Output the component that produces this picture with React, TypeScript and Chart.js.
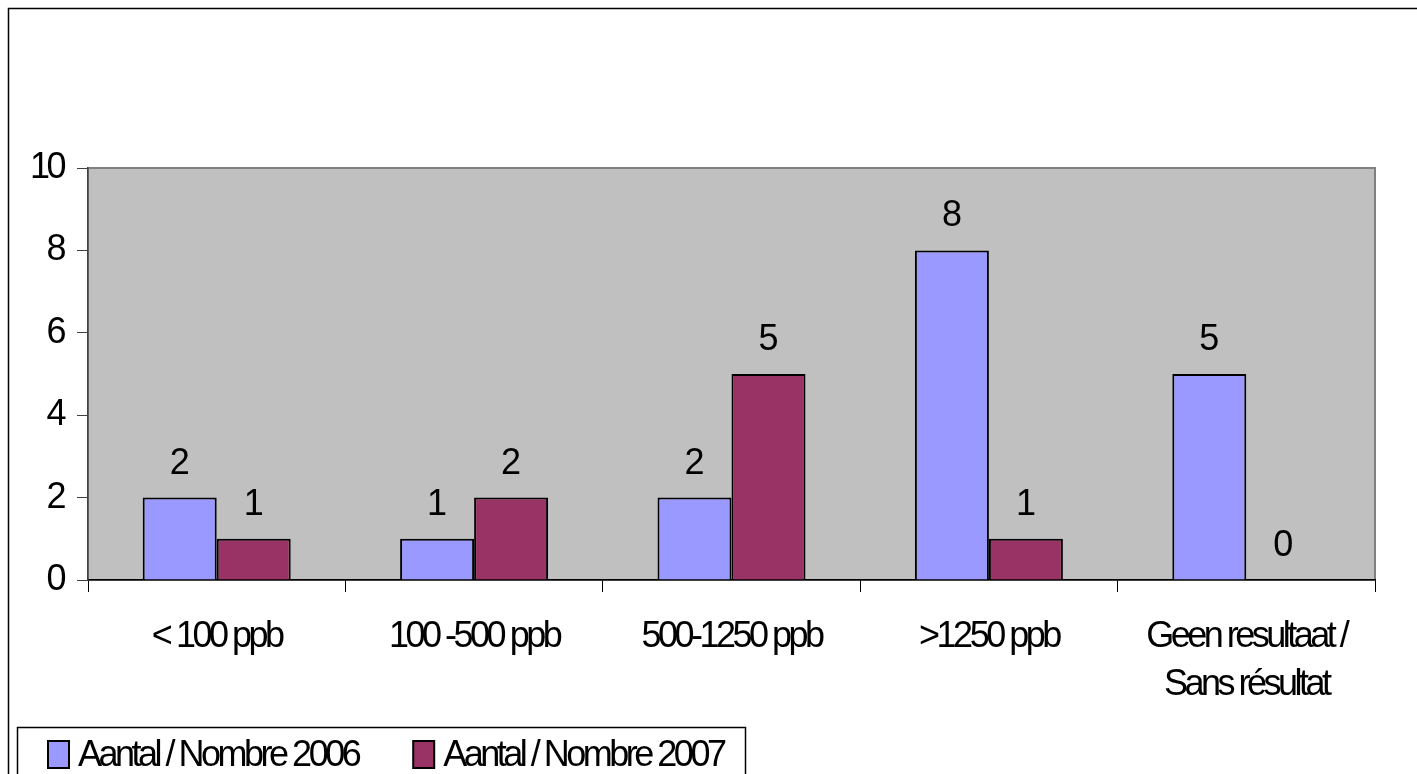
import { useEffect, useRef } from 'react';
import { Chart, registerables } from 'chart.js';

Chart.register(...registerables);

const categories: (string | string[])[] = [
  '< 100 ppb',
  '100 -500 ppb',
  '500-1250 ppb',
  '>1250 ppb',
  ['Geen resultaat /', 'Sans résultat'],
];
const series2006 = [2, 1, 2, 8, 5];
const series2007 = [1, 2, 5, 1, 0];
const seriesNames = ['Aantal / Nombre 2006', 'Aantal / Nombre 2007'];
const yTickValues = [0, 2, 4, 6, 8, 10];

const FONT = '"Liberation Sans", Arial, sans-serif';
const TIGHT = '-3.5px';

const framePlugin = {
  id: 'frame',
  beforeDraw(chart: any) {
    const { ctx, chartArea: a } = chart;
    ctx.save();
    ctx.fillStyle = '#ffffff';
    ctx.fillRect(0, 0, chart.width, chart.height);
    ctx.strokeStyle = '#000000';
    ctx.lineWidth = 1.5;
    ctx.strokeRect(8.5, 8.5, chart.width + 50, chart.height + 50);
    ctx.fillStyle = '#C0C0C0';
    ctx.fillRect(a.left, a.top, a.right - a.left, a.bottom - a.top);
    ctx.strokeStyle = '#808080';
    ctx.lineWidth = 2;
    ctx.strokeRect(a.left, a.top, a.right - a.left, a.bottom - a.top);
    ctx.restore();
    (ctx as any).letterSpacing = TIGHT;
  },
};

const labelPlugin = {
  id: 'valueLabels',
  afterDatasetsDraw(chart: any) {
    const { ctx } = chart;
    ctx.save();
    (ctx as any).letterSpacing = '0px';
    ctx.fillStyle = '#000000';
    ctx.font = `36px ${FONT}`;
    ctx.textAlign = 'center';
    ctx.textBaseline = 'alphabetic';
    chart.data.datasets.forEach((ds: any, i: number) => {
      const meta = chart.getDatasetMeta(i);
      meta.data.forEach((el: any, j: number) => {
        ctx.fillText(String(ds.data[j]), el.x, el.y - 24);
      });
    });
    ctx.restore();
  },
};

const legendPlugin = {
  id: 'boxLegend',
  afterDraw(chart: any) {
    const { ctx } = chart;
    ctx.save();
    (ctx as any).letterSpacing = '-3.5px';
    ctx.strokeStyle = '#000000';
    ctx.lineWidth = 1.5;
    ctx.strokeRect(17.5, 727.5, 728, 100);
    ctx.font = `36px ${FONT}`;
    ctx.textBaseline = 'middle';
    ctx.textAlign = 'left';
    let x = 48;
    chart.data.datasets.forEach((ds: any) => {
      ctx.fillStyle = ds.backgroundColor;
      ctx.fillRect(x, 741, 21, 27);
      ctx.strokeStyle = '#000000';
      ctx.lineWidth = 2;
      ctx.strokeRect(x, 741, 21, 27);
      ctx.fillStyle = '#000000';
      ctx.fillText(ds.label, x + 30, 756);
      x += 30 + ctx.measureText(ds.label).width + 55;
    });
    ctx.restore();
    (ctx as any).letterSpacing = '0px';
  },
};

export default function App() {
  const ref = useRef<HTMLCanvasElement | null>(null);

  useEffect(() => {
    if (!ref.current) return;
    const chart = new Chart(ref.current, {
      type: 'bar',
      data: {
        labels: categories,
        datasets: [
          {
            label: seriesNames[0],
            data: series2006,
            backgroundColor: '#9999FF',
            borderColor: '#000000',
            borderWidth: 2,
            categoryPercentage: 0.575,
            barPercentage: 1,
          },
          {
            label: seriesNames[1],
            data: series2007,
            backgroundColor: '#993366',
            borderColor: '#000000',
            borderWidth: 2,
            categoryPercentage: 0.575,
            barPercentage: 1,
          },
        ],
      },
      options: {
        responsive: false,
        animation: false,
        layout: { padding: { top: 168, right: 42, bottom: 0, left: 0 } },
        plugins: {
          legend: { display: false },
          tooltip: { enabled: false },
        },
        scales: {
          x: {
            grid: {
              offset: true,
              drawOnChartArea: false,
              drawTicks: true,
              tickLength: 12,
              color: '#000000',
            },
            border: { color: '#000000', width: 1.5 },
            ticks: {
              color: '#000000',
              font: { family: FONT, size: 36, lineHeight: 1.33 },
              padding: 21,
              maxRotation: 0,
              autoSkip: false,
            },
            afterFit(scale: any) {
              scale.height = 194;
            },
          },
          y: {
            min: 0,
            max: 10,
            grid: {
              drawOnChartArea: false,
              drawTicks: true,
              tickLength: 11,
              color: '#404040',
            },
            border: { color: '#404040', width: 1.5 },
            ticks: {
              color: '#000000',
              font: { family: FONT, size: 36 },
              padding: 14,
            },
            afterBuildTicks(scale: any) {
              scale.ticks = yTickValues.map((v) => ({ value: v }));
            },
            afterFit(scale: any) {
              scale.width = 88;
            },
          },
        },
      },
      plugins: [framePlugin, labelPlugin, legendPlugin],
    });
    return () => chart.destroy();
  }, []);

  return (
    <div style={{ position: 'fixed', left: 0, top: 0, width: 1417, height: 774, overflow: 'hidden', background: '#fff' }}>
      <canvas ref={ref} width={1417} height={774} style={{ display: 'block', width: 1417, height: 774 }} />
    </div>
  );
}
